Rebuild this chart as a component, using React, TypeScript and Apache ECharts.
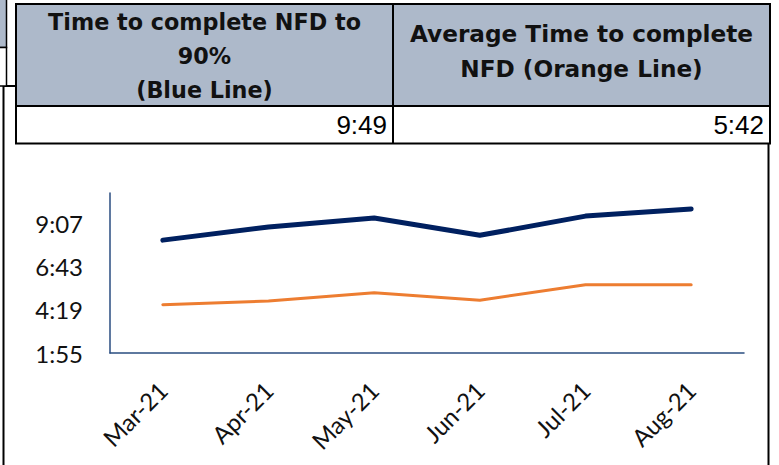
import React, { useEffect, useRef } from "react";
import * as echarts from "echarts";

const categories = ["Mar-21", "Apr-21", "May-21", "Jun-21", "Jul-21", "Aug-21"];
const blueTimes = ["8:11", "8:55", "9:25", "8:27", "9:31", "9:55"];
const orangeTimes = ["4:36", "4:48", "5:16", "4:51", "5:42", "5:42"];
const yTickLabels = ["1:55", "4:19", "6:43", "9:07"];
const yAxisMax = "10:48";

const headerLeftLines = ["Time to complete NFD to", "90%", "(Blue Line)"];
const headerRightLines = ["Average Time to complete", "NFD (Orange Line)"];
const valueLeft = "9:49";
const valueRight = "5:42";

const toMin = (s: string) => {
  const [h, m] = s.split(":").map(Number);
  return h * 60 + m;
};
const fmt = (v: number) => {
  const t = Math.round(v);
  const h = Math.floor(t / 60);
  const m = t % 60;
  return `${h}:${m < 10 ? "0" + m : m}`;
};

const HEADER_FILL = "#adb9ca";
const HEAD_FONT = "DejaVu Sans";
const AX_FONT = "Lato";

export default function App() {
  const ref = useRef<HTMLDivElement>(null);
  useEffect(() => {
    if (!ref.current) return;
    const chart = echarts.init(ref.current, null, { renderer: "svg" });
    const ticks = yTickLabels.map(toMin);
    const headText = (text: string, x: number, y: number, size: number) => ({
      type: "text",
      x,
      y,
      style: {
        text,
        fill: "#111",
        font: `bold ${size}px "${HEAD_FONT}"`,
        textAlign: "center",
        textVerticalAlign: "middle",
      },
    });
    const valText = (text: string, x: number, y: number) => ({
      type: "text",
      x,
      y,
      style: {
        text,
        fill: "#000",
        font: `26px "Liberation Sans"`,
        textAlign: "right",
        textVerticalAlign: "middle",
      },
    });
    const option: any = {
      animation: false,
      backgroundColor: "#fff",
      grid: { left: 110, right: 35, top: 193, bottom: 112 },
      xAxis: {
        type: "category",
        data: categories,
        boundaryGap: true,
        axisLine: { lineStyle: { color: "#2a4d80", width: 1.5 } },
        axisTick: { show: false },
        axisLabel: {
          rotate: 45,
          margin: 33,
          color: "#111",
          fontFamily: AX_FONT,
          fontSize: 24,
        },
      },
      yAxis: {
        type: "value",
        min: ticks[0],
        max: toMin(yAxisMax),
        axisLine: { show: true, lineStyle: { color: "#2a4d80", width: 1.5 } },
        axisTick: { show: false },
        splitLine: { show: false },
        axisLabel: {
          customValues: ticks,
          formatter: (v: number) => fmt(v),
          margin: 27,
          color: "#111",
          fontFamily: AX_FONT,
          fontSize: 24,
        },
      },
      series: [
        {
          type: "line",
          data: blueTimes.map(toMin),
          showSymbol: false,
          lineStyle: { color: "#002060", width: 5, cap: "round", join: "round" },
          z: 3,
        },
        {
          type: "line",
          data: orangeTimes.map(toMin),
          showSymbol: false,
          lineStyle: { color: "#ed7d31", width: 3, cap: "round", join: "round" },
          z: 2,
        },
      ],
      graphic: [
        {
          type: "rect",
          z: -10,
          shape: { x: 3.5, y: 86, width: 765, height: 400 },
          style: { fill: "#fff", stroke: "#000", lineWidth: 2 },
        },
        {
          type: "rect",
          shape: { x: -5, y: -2, width: 11.5, height: 49.5 },
          style: { fill: HEADER_FILL, stroke: "#000", lineWidth: 1.5 },
        },
        {
          type: "rect",
          shape: { x: -5, y: 47.5, width: 11.5, height: 38.5 },
          style: { fill: "#fff", stroke: "#000", lineWidth: 1.5 },
        },
        {
          type: "rect",
          shape: { x: 16, y: 4, width: 754, height: 102 },
          style: { fill: HEADER_FILL, stroke: "#000", lineWidth: 2 },
        },
        {
          type: "rect",
          shape: { x: 16, y: 106, width: 754, height: 37.5 },
          style: { fill: "#fff", stroke: "#000", lineWidth: 2 },
        },
        {
          type: "line",
          shape: { x1: 393, y1: 4, x2: 393, y2: 143.5 },
          style: { stroke: "#000", lineWidth: 2 },
        },
        headText(headerLeftLines[0], 204.5, 22, 22.3),
        headText(headerLeftLines[1], 204.5, 56, 22.3),
        headText(headerLeftLines[2], 204.5, 90, 22.3),
        headText(headerRightLines[0], 581.5, 33, 23.2),
        headText(headerRightLines[1], 581.5, 68, 23.2),
        valText(valueLeft, 387, 125),
        valText(valueRight, 764, 125),
      ],
    };
    chart.setOption(option);
    return () => chart.dispose();
  }, []);
  return (
    <div
      ref={ref}
      style={{ position: "fixed", left: 0, top: 0, width: 779, height: 465 }}
    />
  );
}
